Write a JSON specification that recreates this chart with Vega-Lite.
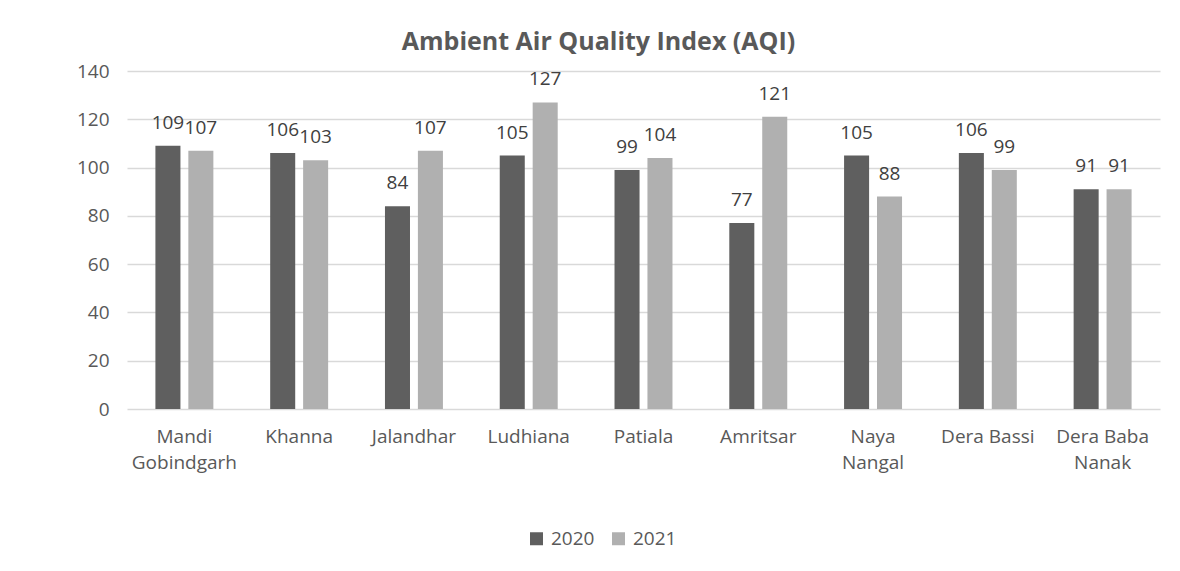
{
  "$schema": "https://vega.github.io/schema/vega-lite/v6.json",
  "autosize": {"type": "none"},
  "width": 1033,
  "height": 338,
  "padding": {"left": 127, "top": 71, "right": 20, "bottom": 162},
  "background": "white",
  "title": {
    "text": "Ambient Air Quality Index (AQI)",
    "font": "Open Sans",
    "fontSize": 25,
    "fontWeight": "bold",
    "color": "#595959",
    "anchor": "middle",
    "dx": -45,
    "offset": 7
  },
  "config": {
    "view": {"stroke": null},
    "font": "Open Sans"
  },
  "data": {
    "values": [
      {"city": "Mandi Gobindgarh", "year": "2020", "aqi": 109},
      {"city": "Mandi Gobindgarh", "year": "2021", "aqi": 107},
      {"city": "Khanna", "year": "2020", "aqi": 106},
      {"city": "Khanna", "year": "2021", "aqi": 103},
      {"city": "Jalandhar", "year": "2020", "aqi": 84},
      {"city": "Jalandhar", "year": "2021", "aqi": 107},
      {"city": "Ludhiana", "year": "2020", "aqi": 105},
      {"city": "Ludhiana", "year": "2021", "aqi": 127},
      {"city": "Patiala", "year": "2020", "aqi": 99},
      {"city": "Patiala", "year": "2021", "aqi": 104},
      {"city": "Amritsar", "year": "2020", "aqi": 77},
      {"city": "Amritsar", "year": "2021", "aqi": 121},
      {"city": "Naya Nangal", "year": "2020", "aqi": 105},
      {"city": "Naya Nangal", "year": "2021", "aqi": 88},
      {"city": "Dera Bassi", "year": "2020", "aqi": 106},
      {"city": "Dera Bassi", "year": "2021", "aqi": 99},
      {"city": "Dera Baba Nanak", "year": "2020", "aqi": 91},
      {"city": "Dera Baba Nanak", "year": "2021", "aqi": 91}
    ]
  },
  "encoding": {
    "x": {
      "field": "city",
      "type": "nominal",
      "sort": null,
      "scale": {"paddingInner": 0.495, "paddingOuter": 0.2475},
      "axis": {
        "title": null,
        "labelAngle": 0,
        "ticks": false,
        "domain": false,
        "labelFont": "Open Sans",
        "labelFontSize": 19,
        "labelColor": "#595959",
        "labelPadding": 18,
        "labelLineHeight": 26,
        "labelExpr": "datum.value == 'Mandi Gobindgarh' ? ['Mandi', 'Gobindgarh'] : datum.value == 'Naya Nangal' ? ['Naya', 'Nangal'] : datum.value == 'Dera Baba Nanak' ? ['Dera Baba', 'Nanak'] : datum.value"
      }
    },
    "xOffset": {
      "field": "year",
      "type": "nominal",
      "scale": {"paddingInner": 0.24, "paddingOuter": 0}
    },
    "y": {
      "field": "aqi",
      "type": "quantitative",
      "scale": {"domain": [0, 140]},
      "axis": {
        "title": null,
        "values": [0, 20, 40, 60, 80, 100, 120, 140],
        "ticks": false,
        "domain": false,
        "grid": true,
        "gridColor": "#d9d9d9",
        "gridWidth": 1.5,
        "labelFont": "Open Sans",
        "labelFontSize": 19,
        "labelColor": "#595959",
        "labelPadding": 18
      }
    }
  },
  "layer": [
    {
      "mark": {"type": "bar", "strokeWidth": 1},
      "encoding": {
        "color": {
          "field": "year",
          "type": "nominal",
          "scale": {"domain": ["2020", "2021"], "range": ["#5f5f5f", "#b0b0b0"]},
          "legend": {
            "title": null,
            "orient": "none",
            "direction": "horizontal",
            "legendX": 400,
            "legendY": 458,
            "symbolType": "square",
            "symbolSize": 169,
            "symbolStrokeWidth": 0,
            "labelFont": "Open Sans",
            "labelFontSize": 19,
            "labelColor": "#595959",
            "labelOffset": 5,
            "columnPadding": 14
          }
        }
      }
    },
    {
      "mark": {
        "type": "text",
        "baseline": "alphabetic",
        "dy": -17,
        "font": "Open Sans",
        "fontSize": 19,
        "color": "#404040"
      },
      "encoding": {
        "text": {"field": "aqi", "type": "quantitative"}
      }
    }
  ]
}
